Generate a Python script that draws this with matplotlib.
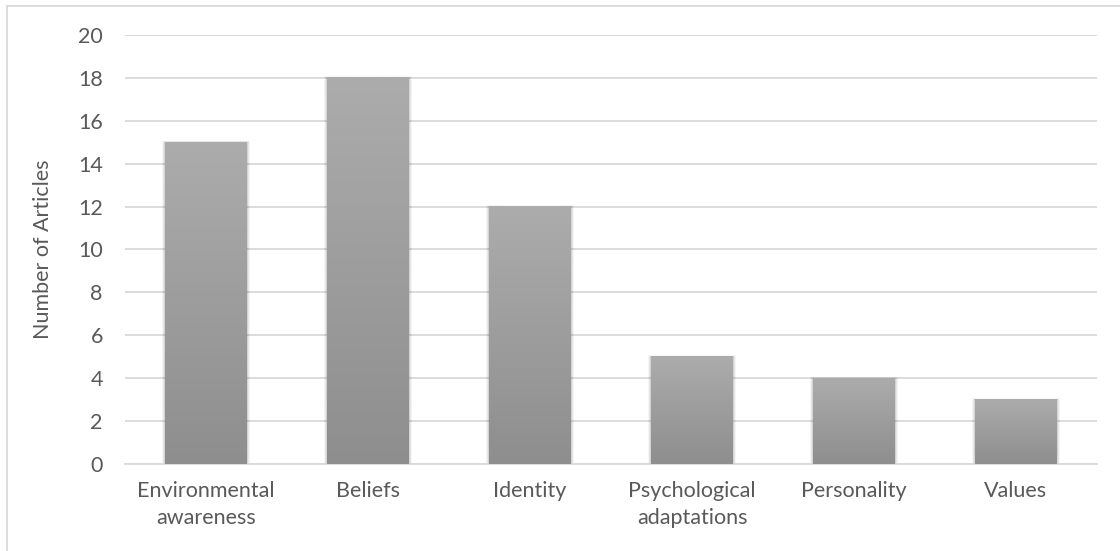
import numpy as np
import matplotlib.pyplot as plt
from matplotlib.patches import Rectangle

categories = ["Environmental\nawareness", "Beliefs", "Identity",
              "Psychological\nadaptations", "Personality", "Values"]
articles = [15, 18, 12, 5, 4, 3]
y_ticks = list(range(0, 21, 2))

plt.rcParams['font.family'] = ['Lato', 'DejaVu Sans']
TXT = "#595959"
FS = 15.5

fig = plt.figure(figsize=(11.2, 5.51), dpi=100)
ax = fig.add_axes([125 / 1120, 1 - 464 / 551, 972 / 1120, 429 / 551])

# vertical gradient used to fill each bar (light at top, dark at bottom)
grad = np.linspace(0, 1, 256).reshape(-1, 1)
cmap = plt.matplotlib.colors.LinearSegmentedColormap.from_list(
    "bar", ["#8e8e8e", "#acacac"])

width = 0.506
x = np.arange(len(categories))
for xi, v in zip(x, articles):
    # soft shadow around the bar
    for k, a in enumerate([0.04, 0.06, 0.08]):
        pad = 0.018 - k * 0.006
        ax.add_patch(Rectangle((xi - width / 2 - pad, 0), width + 2 * pad,
                               v + pad * 4, color="black", alpha=a,
                               lw=0, zorder=2))
    ax.imshow(grad, cmap=cmap, aspect="auto", origin="lower",
              extent=(xi - width / 2, xi + width / 2, 0, v), zorder=3)

ax.set_xlim(-0.5, len(categories) - 0.5)
ax.set_ylim(0, 20)
ax.set_yticks(y_ticks)
ax.set_xticks(x)
ax.set_xticklabels(categories, linespacing=1.45)
ax.grid(axis="y", color="#d9d9d9", lw=1.3, zorder=0)
ax.set_axisbelow(True)
for s in ["top", "right", "left"]:
    ax.spines[s].set_visible(False)
ax.spines["bottom"].set_color("#d9d9d9")
ax.spines["bottom"].set_linewidth(1.3)
ax.tick_params(axis="both", length=0, colors=TXT, labelsize=FS)
ax.tick_params(axis="x", pad=12)
ax.tick_params(axis="y", pad=16)
ax.set_ylabel("Number of Articles", color=TXT, fontsize=FS, labelpad=18)

# outer chart frame
fig.add_artist(Rectangle((7 / 1120, -0.01), 1.1, 1 - 6 / 551 + 0.01,
                         transform=fig.transFigure, fill=False,
                         ec="#d9d9d9", lw=1.3))

fig.savefig("out.png", dpi=100)
